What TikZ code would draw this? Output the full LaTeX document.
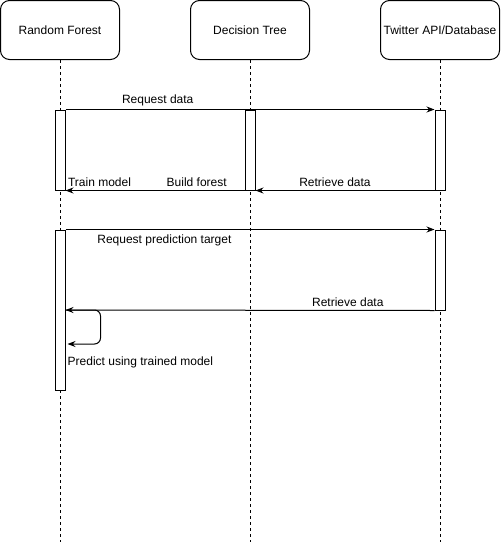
\documentclass[tikz,border=0pt]{standalone}
\usepackage{fontspec}
\setmainfont{Liberation Sans}
\usetikzlibrary{arrows.meta,calc,positioning}
\tikzset{
	actor/.style={draw,line width=1pt,rounded corners=9pt,minimum width=119pt,minimum height=59pt,inner sep=0pt,anchor=center},
	activation/.style={draw,line width=1pt,fill=white,minimum width=10pt,inner sep=0pt,anchor=center},
	lifeline/.style={dashed,line width=1pt,dash pattern=on 3pt off 3pt},
	msg/.style={line width=1pt,-{Stealth[length=8pt,width=6pt]}},
	lbl/.style={inner sep=3pt},
}
\begin{document}
\begin{tikzpicture}[x=1pt,y=-1pt,every node/.append style={font=\fontsize{12}{14}\selectfont}]
				\useasboundingbox (0,0) rectangle (501,542);
				\node (rf) at (60,30) [actor] {Random Forest};
				\node (dt) at (250,30) [actor] {Decision Tree};
				\node (tw) at (440,30) [actor] {Twitter API/Database};
				
				\coordinate (rfEnd) at (60,542);
				\coordinate (dtEnd) at (250,542);
				\coordinate (twEnd) at (440,542);
				\draw[lifeline] (rf.south) -- (rfEnd);
				\draw[lifeline] (dt.south) -- (dtEnd);
				\draw[lifeline] (tw.south) -- (twEnd);
				
				\node (rfAct1) at (60,150) [activation,minimum height=80pt] {};
				\node (dtAct) at (250,150) [activation,minimum height=80pt] {};
				\node (twAct1) at (440,150) [activation,minimum height=80pt] {};
				\node (rfAct2) at (60,310) [activation,minimum height=160pt] {};
				\node (twAct2) at (440,270) [activation,minimum height=80pt] {};
				
				\draw[msg] (rfAct1.north east) -- (twAct1.north west) node[lbl,pos=.25,above] {Request data};
				\draw[msg] (dtAct.south west) -- (rfAct1.south east)
					node[lbl,pos=.267,above] {Build forest}
					node[lbl,pos=.81,above] {Train model};
				\draw[msg] (twAct1.south west) -- (dtAct.south east) node[lbl,pos=.556,above] {Retrieve data};
				\draw[msg] (rfAct2.north east) -- (twAct2.north west) node[lbl,pos=.268,below,yshift=-2pt] {Request prediction target};
				\draw[msg] (twAct2.south west) -- (rfAct2.east) node[lbl,pos=.235,above] {Retrieve data};
				
				\coordinate (loopEnd) at ($(rfAct2.east)+(2,34)$);
				\draw[msg,rounded corners=6pt] (rfAct2.east) -- ++(35,0) -- ++(0,34) -- (loopEnd);
				\node[anchor=west,inner sep=2pt] (lblPredict) at ($(rfAct2.east)+(0,52)$) {Predict using trained model};
			\end{tikzpicture}
\end{document}
